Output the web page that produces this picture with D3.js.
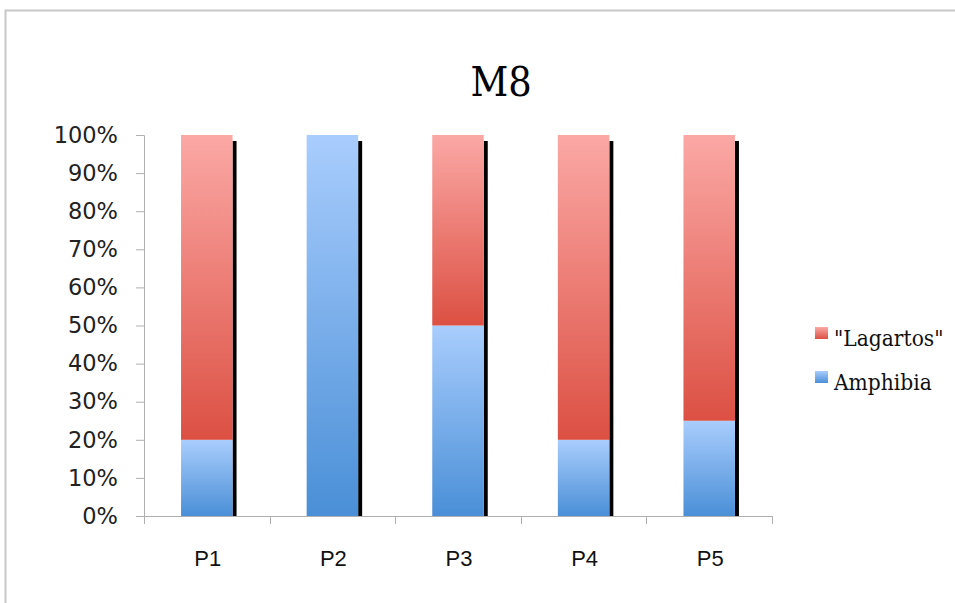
<!DOCTYPE html>
<html><head><meta charset="utf-8">
<script src="https://cdn.jsdelivr.net/npm/d3@7"></script>
<style>body{margin:0;background:#fff}svg{display:block}</style>
</head><body>
<svg id="c" width="955" height="603"></svg>
<script>
const categories = ["P1","P2","P3","P4","P5"];
const amphibia = [20,100,50,20,25];
const lagartos = [80,0,50,80,75];
const seriesNames = ["Amphibia","\"Lagartos\""];
const yTicks = [0,10,20,30,40,50,60,70,80,90,100];
const title = "M8";

const svg = d3.select("#c");
// frame
svg.append("path").attr("d","M5.5,603 L5.5,10.5 L955,10.5").attr("fill","none").attr("stroke","#c8c8c8").attr("stroke-width",2);

const defs = svg.append("defs");
function grad(id, top, bot){
  const g = defs.append("linearGradient").attr("id",id).attr("x1",0).attr("y1",0).attr("x2",0).attr("y2",1);
  g.append("stop").attr("offset","0%").attr("stop-color",top);
  g.append("stop").attr("offset","100%").attr("stop-color",bot);
}
grad("gBlue","#a9cdfd","#4a8fd7");
grad("gRed","#fba8a5","#dc5043");

const x0=144, x1=772, yb=516, yt=135;
const x = d3.scaleBand().domain(categories).range([x0,x1]).paddingInner(0.59).paddingOuter(0.295);
const y = d3.scaleLinear().domain([0,100]).range([yb,yt]);

// axes
const yAxis = svg.append("g").attr("transform",`translate(${x0},0)`)
  .call(d3.axisLeft(y).tickValues(yTicks).tickSize(8).tickPadding(18).tickFormat(d=>d+"%"));
yAxis.select(".domain").attr("stroke","#b0b0b0");
yAxis.selectAll(".tick line").attr("stroke","#b0b0b0");
yAxis.selectAll(".tick text").attr("font-family","DejaVu Sans").attr("font-size","22.5px").attr("fill","#222");

const xt = d3.scaleLinear().domain([0,5]).range([x0,x1]);
const xAxis = svg.append("g").attr("transform",`translate(0,${yb})`);
xAxis.append("line").attr("x1",x0).attr("x2",x1).attr("y1",0.5).attr("y2",0.5).attr("stroke","#b0b0b0");
xAxis.selectAll("line.t").data(d3.range(6)).join("line").attr("class","t")
  .attr("x1",d=>Math.round(xt(d))+0.5).attr("x2",d=>Math.round(xt(d))+0.5).attr("y1",0).attr("y2",8).attr("stroke","#b0b0b0");
xAxis.selectAll("text").data(categories).join("text")
  .attr("x",d=>x(d)+x.bandwidth()/2+1).attr("y",50).attr("text-anchor","middle")
  .attr("font-family","Liberation Sans").attr("font-size","22px").attr("fill","#111").text(d=>d);

// bars
const bw = x.bandwidth();
categories.forEach((c,i)=>{
  const a = amphibia[i], l = lagartos[i];
  // shadow
  svg.append("rect").attr("x",x(c)+bw).attr("y",y(a+l)+6).attr("width",4).attr("height",yb-y(a+l)-6).attr("fill","#000");
  if(a>0) svg.append("rect").attr("x",x(c)).attr("y",y(a)).attr("width",bw).attr("height",yb-y(a)).attr("fill","url(#gBlue)");
  if(l>0) svg.append("rect").attr("x",x(c)).attr("y",y(a+l)).attr("width",bw).attr("height",y(a)-y(a+l)).attr("fill","url(#gRed)");
});

// title
svg.append("text").attr("x",501).attr("y",96).attr("text-anchor","middle")
  .attr("font-family","DejaVu Serif Condensed, DejaVu Serif").attr("font-size","41px").attr("fill","#000").text(title);

// legend
const legendItems = [{name:seriesNames[1],g:"url(#gRed)"},{name:seriesNames[0],g:"url(#gBlue)"}];
const lg = svg.append("g");
legendItems.forEach((d,i)=>{
  const yy = 346 + i*44;
  lg.append("rect").attr("x",815).attr("y",yy-19).attr("width",13).attr("height",12).attr("fill",d.g);
  lg.append("text").attr("x",834).attr("y",yy).attr("font-family","DejaVu Serif Condensed, DejaVu Serif")
    .attr("font-size","22.5px").attr("fill","#111").text(d.name);
});
</script>
</body></html>
